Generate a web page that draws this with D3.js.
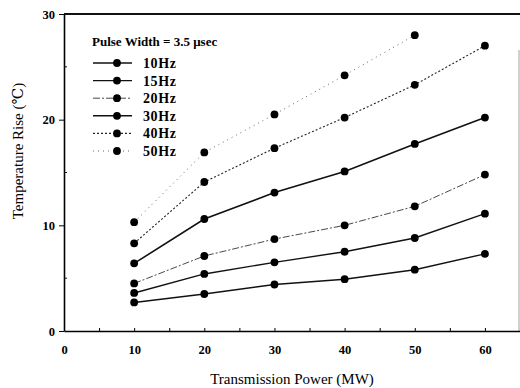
<!DOCTYPE html>
<html>
<head>
<meta charset="utf-8">
<script src="https://cdn.jsdelivr.net/npm/d3@7"></script>
<style>
  body { margin: 0; background: #fff; }
  svg { display: block; font-family: "Liberation Serif", "DejaVu Serif", serif; }
</style>
</head>
<body>
<svg id="chart" width="520" height="388"></svg>
<script>
(function() {
  'use strict';

  // Data
  const powers = [10, 20, 30, 40, 50, 60];
  const freqs = ['10Hz', '15Hz', '20Hz', '30Hz', '40Hz', '50Hz'];
  const rise10 = [2.7, 3.5, 4.4, 4.9, 5.8, 7.3];
  const rise15 = [3.6, 5.4, 6.5, 7.5, 8.8, 11.1];
  const rise20 = [4.5, 7.1, 8.7, 10.0, 11.8, 14.8];
  const rise30 = [6.4, 10.6, 13.1, 15.1, 17.7, 20.2];
  const rise40 = [8.3, 14.1, 17.3, 20.2, 23.3, 27.0];
  const rise50 = [10.3, 16.9, 20.5, 24.2, 28.0];
  const xTicks = [0, 10, 20, 30, 40, 50, 60];
  const yTicks = [0, 10, 20, 30];

  const seriesVals = [rise10, rise15, rise20, rise30, rise40, rise50];
  const styles = [
    { w: 1.4, dash: null, c: '#111' },
    { w: 1.4, dash: null, c: '#111' },
    { w: 0.9, dash: '7,2,2,2', c: '#333' },
    { w: 1.6, dash: null, c: '#111' },
    { w: 1.1, dash: '2,2', c: '#222' },
    { w: 0.9, dash: '1,4', c: '#555' }
  ];

  const svg = d3.select('#chart');
  const x = d3.scaleLinear().domain([0, 65]).range([64, 520]);
  const y = d3.scaleLinear().domain([0, 30]).range([331, 14]);

  // Frame
  svg.append('line').attr('x1', 64).attr('x2', 520).attr('y1', y(30)).attr('y2', y(30))
    .attr('stroke', '#111').attr('stroke-width', 1.8);
  svg.append('line').attr('x1', 519).attr('x2', 519).attr('y1', 50).attr('y2', y(0))
    .attr('stroke', '#888').attr('stroke-width', 0.8);

  // X axis: ticks every 5, pointing inward
  const xAxis = d3.axisBottom(x)
    .tickValues(d3.range(0, 66, 5))
    .tickSizeInner(-3).tickSizeOuter(0)
    .tickFormat(d => xTicks.includes(d) ? d : '');
  const gx = svg.append('g').attr('transform', `translate(0,${y(0)})`).call(xAxis);
  gx.select('.domain').attr('stroke-width', 1.6);
  gx.selectAll('text').attr('y', 14).attr('font-size', 12.5).attr('font-weight', 'bold')
    .attr('font-family', '"Liberation Serif", serif');

  // Y axis: major ticks outward, minor inward
  const yAxis = d3.axisLeft(y).tickValues(yTicks).tickSizeInner(5).tickSizeOuter(0).tickPadding(4);
  const gy = svg.append('g').attr('transform', `translate(${x(0)},0)`).call(yAxis);
  gy.select('.domain').attr('stroke-width', 1.6);
  gy.selectAll('text').attr('font-size', 12.5).attr('font-weight', 'bold')
    .attr('font-family', '"Liberation Serif", serif');
  svg.append('g').selectAll('line').data([5, 15, 25]).enter().append('line')
    .attr('x1', x(0)).attr('x2', x(0) + 3)
    .attr('y1', d => y(d)).attr('y2', d => y(d))
    .attr('stroke', '#111');

  // Axis titles
  svg.append('text').attr('x', 292).attr('y', 384).attr('text-anchor', 'middle')
    .attr('font-size', 15).text('Transmission Power (MW)');
  svg.append('text').attr('transform', 'translate(23,151) rotate(-90)')
    .attr('text-anchor', 'middle').attr('font-size', 15).text('Temperature Rise (\u2103)');

  // Series
  const line = d3.line().x(d => x(d[0])).y(d => y(d[1]));
  seriesVals.forEach((vals, i) => {
    const pts = vals.map((v, j) => [powers[j], v]);
    const st = styles[i];
    svg.append('path').datum(pts).attr('d', line)
      .attr('fill', 'none').attr('stroke', st.c).attr('stroke-width', st.w)
      .attr('stroke-dasharray', st.dash);
    svg.append('g').selectAll('circle').data(pts).enter().append('circle')
      .attr('cx', d => x(d[0])).attr('cy', d => y(d[1])).attr('r', 3.9)
      .attr('fill', '#000');
  });

  // Legend
  const lg = svg.append('g');
  lg.append('text').attr('x', 92).attr('y', 46).attr('font-size', 13)
    .attr('font-weight', 'bold').text('Pulse Width = 3.5 \u03bcsec');
  freqs.forEach((f, i) => {
    const ly = 63 + i * 17.6;
    const st = styles[i];
    lg.append('line').attr('x1', 93).attr('x2', 132).attr('y1', ly).attr('y2', ly)
      .attr('stroke', st.c).attr('stroke-width', st.w).attr('stroke-dasharray', st.dash);
    lg.append('circle').attr('cx', 117).attr('cy', ly).attr('r', 3.9).attr('fill', '#000');
    lg.append('text').attr('x', 143).attr('y', ly + 5).attr('font-size', 14)
      .attr('font-weight', 'bold').attr('letter-spacing', 0.6).text(f);
  });
})();
</script>
</body>
</html>
